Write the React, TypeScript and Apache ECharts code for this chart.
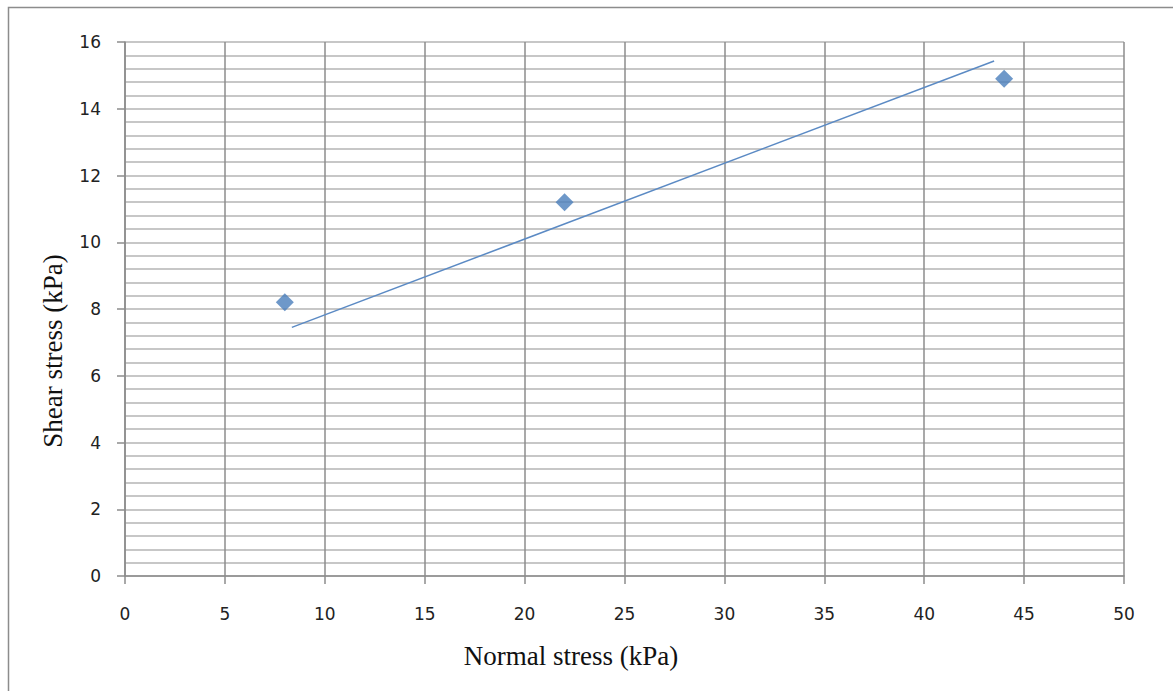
import React, { useEffect, useRef } from "react";
import * as echarts from "echarts";

const normalStress = [8, 22, 44];
const shearStress = [8.2, 11.2, 14.9];
const trendX = [8.35, 43.5];
const trendY = [7.45, 15.43];
const xTicks = [0, 5, 10, 15, 20, 25, 30, 35, 40, 45, 50];
const yTicks = [0, 2, 4, 6, 8, 10, 12, 14, 16];
const xTitle = "Normal stress (kPa)";
const yTitle = "Shear stress (kPa)";

export default function App() {
  const ref = useRef<HTMLDivElement>(null);
  useEffect(() => {
    if (!ref.current) return;
    const chart = echarts.init(ref.current, undefined, { renderer: "svg" });
    const points = normalStress.map((x, i) => [x, shearStress[i]]);
    const trend = trendX.map((x, i) => [x, trendY[i]]);
    chart.setOption({
      animation: false,
      backgroundColor: "#ffffff",
      grid: { left: 125, right: 49, top: 42, bottom: 115, containLabel: false },
      xAxis: {
        type: "value",
        min: xTicks[0],
        max: xTicks[xTicks.length - 1],
        interval: 5,
        axisLine: { show: true, onZero: false, lineStyle: { color: "#8c8c8c", width: 1.5 } },
        axisTick: { show: true, length: 8, lineStyle: { color: "#8c8c8c", width: 1.5 } },
        axisLabel: { margin: 29, color: "#222", fontFamily: "DejaVu Sans", fontSize: 17 },
        splitLine: { show: true, lineStyle: { color: "#8c8c8c", width: 1.5 } },
      },
      yAxis: {
        type: "value",
        min: yTicks[0],
        max: yTicks[yTicks.length - 1],
        interval: 2,
        axisLine: { show: true, onZero: false, lineStyle: { color: "#8c8c8c", width: 1.5 } },
        axisTick: { show: true, length: 8, lineStyle: { color: "#8c8c8c", width: 1.5 } },
        axisLabel: { margin: 24, color: "#222", fontFamily: "DejaVu Sans", fontSize: 17 },
        splitLine: { show: true, lineStyle: { color: "#b4b4b4", width: 1.5 } },
        minorTick: { show: false, splitNumber: 5 },
        minorSplitLine: { show: true, lineStyle: { color: "#b4b4b4", width: 1.5 } },
      },
      graphic: [
        {
          type: "rect",
          shape: { x: 8.5, y: 7.5, width: 1300, height: 800 },
          style: { fill: "none", stroke: "#8c8c8c", lineWidth: 1.5 },
          silent: true,
        },
        {
          type: "text",
          x: 571,
          y: 656,
          style: {
            text: xTitle,
            fontFamily: "Liberation Serif",
            fontSize: 27,
            fill: "#111",
            align: "center",
            verticalAlign: "middle",
          },
        },
        {
          type: "text",
          x: 53,
          y: 351,
          rotation: Math.PI / 2,
          style: {
            text: yTitle,
            fontFamily: "Liberation Serif",
            fontSize: 27,
            fill: "#111",
            align: "center",
            verticalAlign: "middle",
          },
        },
      ],
      series: [
        {
          type: "scatter",
          data: points,
          symbol: "diamond",
          symbolSize: 18,
          itemStyle: { color: "#4a7ebb" },
          z: 3,
        },
        {
          type: "line",
          data: trend,
          showSymbol: false,
          symbol: "none",
          lineStyle: { color: "#5b8ac4", width: 1.5 },
          z: 2,
        },
      ],
    });
    return () => chart.dispose();
  }, []);
  return (
    <div
      ref={ref}
      style={{ position: "fixed", left: 0, top: 0, width: 1173, height: 691 }}
    />
  );
}
